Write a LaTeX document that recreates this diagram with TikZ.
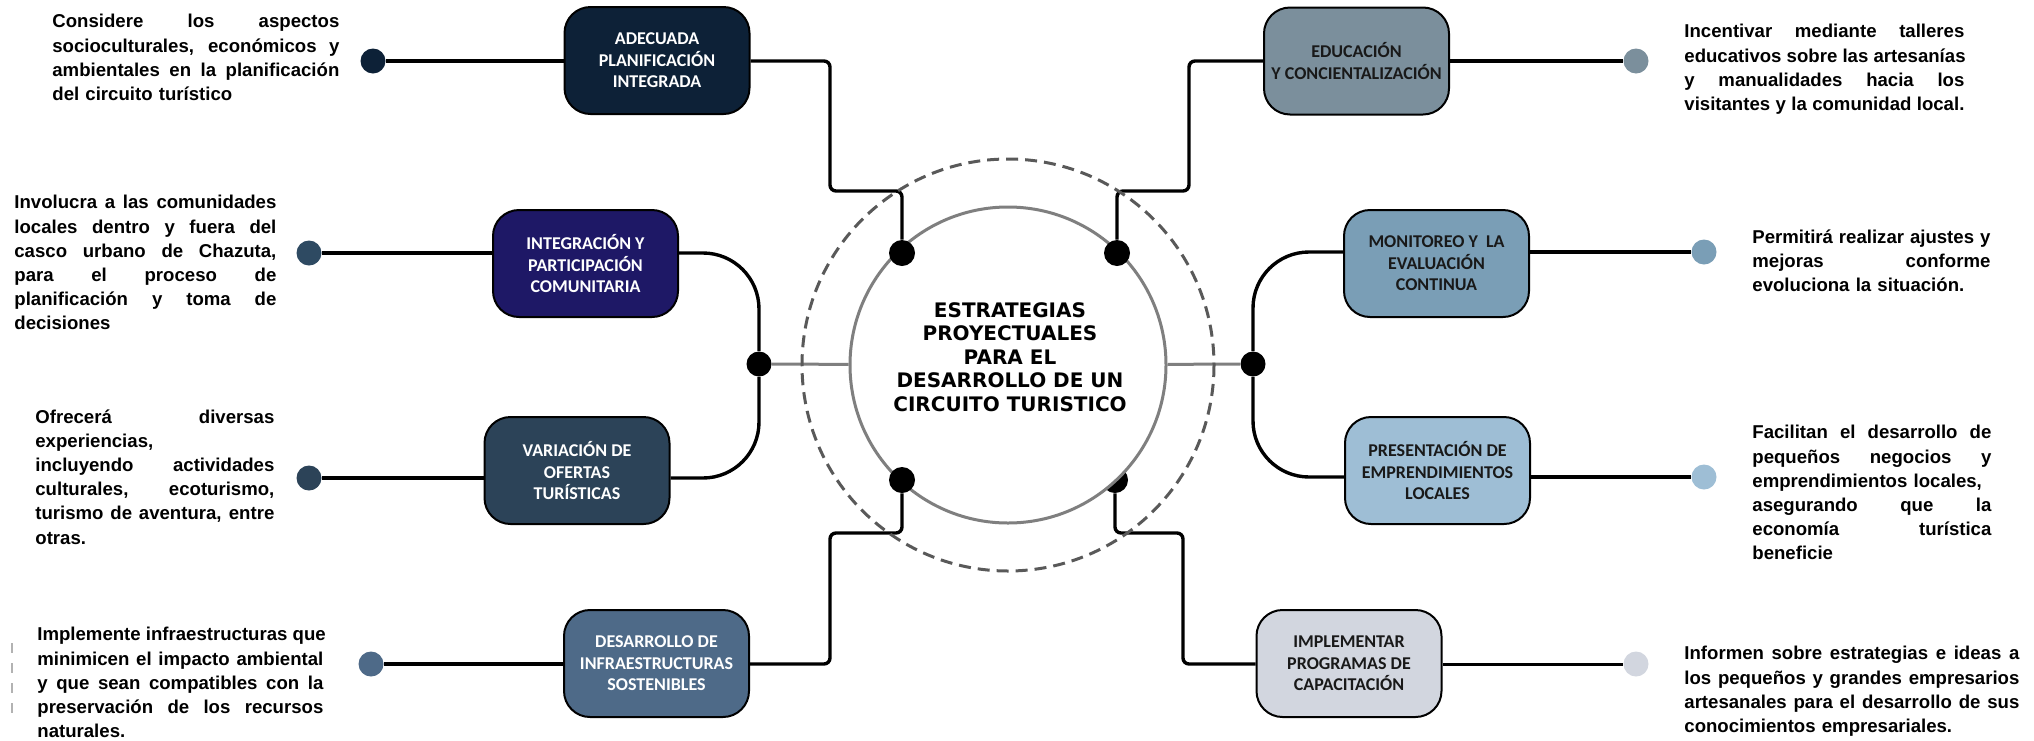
\documentclass[tikz,border=0pt]{standalone}
\usepackage{fontspec}
\newfontfamily\descfam{Liberation Sans}
\newfontfamily\boxfam{Carlito}
\newfontfamily\ctrfam{DejaVu Sans}
\usetikzlibrary{positioning,backgrounds}

\definecolor{cPlan}{HTML}{0D2137}
\definecolor{cInteg}{HTML}{1E1866}
\definecolor{cVar}{HTML}{2C4358}
\definecolor{cInfra}{HTML}{4E6A88}
\definecolor{cEdu}{HTML}{7B8F9C}
\definecolor{cMoni}{HTML}{7A9EB6}
\definecolor{cPres}{HTML}{9EBED5}
\definecolor{cCapac}{HTML}{D2D6DF}
\definecolor{cDotInteg}{HTML}{2E4A62}
\definecolor{cSpoke}{HTML}{7F7F7F}
\definecolor{cRing}{HTML}{595959}

% one justified line / one flush-left line of a description
\newcommand{\jl}[1]{\hbox to\hsize{\spaceskip=\fontdimen2\font plus 1fil\relax #1}\par}
\newcommand{\fl}[1]{\hbox to\hsize{#1\hss}\par}

\tikzset{
  strat/.style={draw=black, line width=1pt, rounded corners=13pt, minimum width=92.5pt,
    minimum height=53.5pt, inner sep=2pt, align=center, text=black!90,
    font=\boxfam\bfseries\fontsize{9}{10.8}\selectfont},
  desc/.style={anchor=north west, inner sep=0pt, font=\descfam\bfseries\fontsize{9.3}{12.1}\selectfont},
  enddot/.style={circle, inner sep=0pt, minimum size=12.5pt},
  hub/.style={circle, fill=black, inner sep=0pt, minimum size=13pt},
  link/.style={line width=1.7pt, rounded corners=3pt},
  lead/.style={line width=2pt},
  spoke/.style={draw=cSpoke, line width=1.5pt},
  ring/.style={draw=cRing, line width=1.5pt, dash pattern=on 6pt off 3.5pt},
}

\begin{document}
\begin{tikzpicture}[x=0.5pt, y=-0.5pt]
\useasboundingbox (0,0) rectangle (2034,740);

% centre
\node[circle, draw=cSpoke, line width=1.5pt, fill=white, minimum size=158pt, inner sep=0pt] (ctr) at (1008,365) {};
\node[align=center, inner sep=0pt, font=\ctrfam\bfseries\fontsize{10}{11.7}\selectfont] (ttl) at (1010,357)
  {ESTRATEGIAS\\PROYECTUALES\\PARA EL\\DESARROLLO DE UN\\CIRCUITO TURISTICO};
\draw[ring] (ctr.center) circle[radius=206];

\node[hub] (dUL) at (902,253) {};
\node[hub] (dUR) at (1117,253) {};
\node[hub] (dLL) at (902,480) {};
\node[hub, minimum size=12.5pt] (jL) at (759,364) {};
\node[hub, minimum size=12.5pt] (jR) at (1253,364) {};

% strategies
\node[strat, fill=cPlan, text=white] (plan) at (657,60.5) {ADECUADA\\PLANIFICACIÓN\\INTEGRADA};
\node[strat, fill=cInteg, text=white] (integ) at (585.5,263.5) {INTEGRACIÓN Y\\PARTICIPACIÓN\\COMUNITARIA};
\node[strat, fill=cVar, text=white] (var) at (577,470.5) {VARIACIÓN DE\\OFERTAS\\TURÍSTICAS};
\node[strat, fill=cInfra, text=white] (infra) at (656.5,663.5) {DESARROLLO DE\\INFRAESTRUCTURAS\\SOSTENIBLES};
\node[strat, fill=cEdu] (edu) at (1356.5,61) {EDUCACIÓN\\Y CONCIENTALIZACIÓN};
\node[strat, fill=cMoni] (moni) at (1436.5,263.5) {MONITOREO Y\ \ LA\\EVALUACIÓN\\CONTINUA};
\node[strat, fill=cPres] (pres) at (1437.5,470.5) {PRESENTACIÓN DE\\EMPRENDIMIENTOS\\LOCALES};
\node[strat, fill=cCapac] (capac) at (1349,663.5) {IMPLEMENTAR\\PROGRAMAS DE\\CAPACITACIÓN};

% end dots
\node[enddot, fill=cPlan] (e1) at (373,61) {};
\node[enddot, fill=cDotInteg] (e2) at (309,253) {};
\node[enddot, fill=cVar] (e3) at (309,478) {};
\node[enddot, fill=cInfra] (e4) at (371,664) {};
\node[enddot, fill=cEdu] (e5) at (1636,61) {};
\node[enddot, fill=cMoni] (e6) at (1704,252) {};
\node[enddot, fill=cPres] (e7) at (1704,477) {};
\node[enddot, fill=cCapac] (e8) at (1636,664) {};

% descriptions
\node[desc, text width=143.5pt] (t1) at (52,14) {\jl{Considere los aspectos}\jl{socioculturales, económicos y}%
  \jl{ambientales en la planificación}\fl{del circuito turístico}};
\node[desc, text width=131pt] (t2) at (14,195) {\jl{Involucra a las comunidades}\jl{locales dentro y fuera del}%
  \jl{casco urbano de Chazuta,}\jl{para el proceso de}\jl{planificación y toma de}\fl{decisiones}};
\node[desc, text width=119.5pt] (t3) at (35,409) {\jl{Ofrecerá diversas}\fl{experiencias,}%
  \jl{incluyendo actividades}\jl{culturales, ecoturismo,}\jl{turismo de aventura, entre}\fl{otras.}};
\node[desc, text width=143pt] (t4) at (37,627) {\jl{Implemente infraestructuras que}\jl{minimicen el impacto ambiental}%
  \jl{y que sean compatibles con la}\jl{preservación de los recursos}\fl{naturales.}};
\node[desc, text width=140pt] (t5) at (1684,24) {\jl{Incentivar mediante talleres}\jl{educativos sobre las artesanías}%
  \jl{y manualidades hacia los}\jl{visitantes y la comunidad local.}};
\node[desc, text width=119pt] (t6) at (1752,229) {\jl{Permitirá realizar ajustes y}\jl{mejoras conforme}%
  \fl{evoluciona la situación.}};
\node[desc, text width=119.5pt] (t7) at (1752,425) {\jl{Facilitan el desarrollo de}\jl{pequeños negocios y}%
  \fl{emprendimientos locales,}\jl{asegurando que la}\jl{economía turística}\fl{beneficie}};
\node[desc, text width=167.5pt] (t8) at (1684,646) {\jl{Informen sobre estrategias e ideas a}%
  \jl{los pequeños y grandes empresarios}\jl{artesanales para el desarrollo de sus}\fl{conocimientos empresariales.}};

\draw[gray!60, line width=0.6pt, dash pattern=on 5pt off 5pt] (12,643) -- (12,717);

\begin{scope}[on background layer]
  \node[hub] (dLR) at (1115,480) {};
  % leads
  \draw[lead] (e1) -- (e1 -| plan.west);
  \draw[lead] (e2) -- (e2 -| integ.west);
  \draw[lead] (e3) -- (e3 -| var.west);
  \draw[lead] (e4) -- (e4 -| infra.west);
  \draw[lead] (e5) -- (e5 -| edu.east);
  \draw[lead] (e6) -- (e6 -| moni.east);
  \draw[lead] (e7) -- (e7 -| pres.east);
  \draw[lead, line width=1.5pt] (e8) -- (e8 -| capac.east);
  % to the centre
  \draw[link] (e1 -| plan.east) -| (830,191) -| (dUL);
  \draw[link] (e4 -| infra.east) -| (830,533) -| (dLL);
  \draw[link] (e5 -| edu.west) -| (1189,191) -| (dUR);
  \draw[link] (e8 -| capac.west) -| (1183,533) -| (dLR);
  \draw[link, rounded corners=28pt] (e2 -| integ.east) -| (jL) |- (e3 -| var.east);
  \draw[link, rounded corners=28pt] (e6 -| moni.west) -| (jR) |- (e7 -| pres.west);
  \draw[spoke] (jL) -- (ctr);
  \draw[spoke] (jR) -- (ctr);
\end{scope}
\end{tikzpicture}
\end{document}
